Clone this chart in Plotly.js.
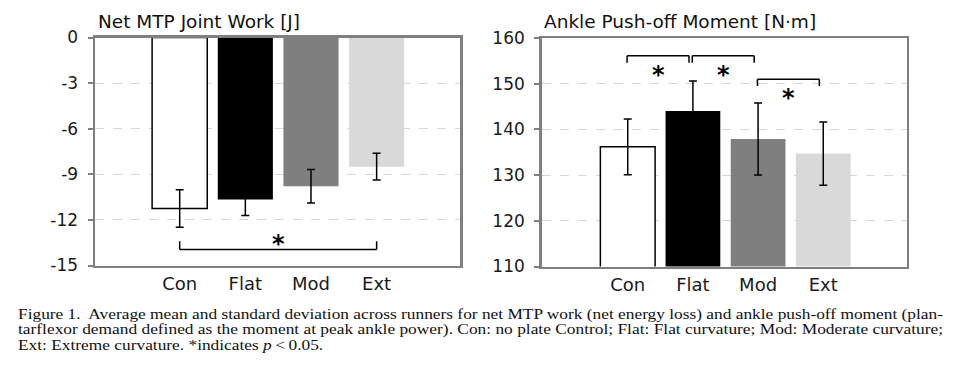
<!DOCTYPE html>
<html>
<head>
<meta charset="utf-8">
<script src="https://cdn.plot.ly/plotly-3.0.1.min.js"></script>
<style>
  html, body { margin:0; padding:0; background:#fff; }
  #wrap { position:relative; width:974px; height:365px; overflow:hidden; }
  #chart { position:absolute; left:0; top:0; width:974px; height:365px; }
  .cap { position:absolute; left:18px; white-space:nowrap; transform-origin:0 0;
    font-family:"Liberation Serif","Times New Roman",serif; font-size:15px; line-height:14px; color:#111; }
</style>
</head>
<body>
<div id="wrap">
  <div id="chart"></div>
  <span class="cap" id="cap1" style="top:307px">Figure 1.&nbsp; Average mean and standard deviation across runners for net MTP work (net energy loss) and ankle push-off moment (plan-</span>
  <span class="cap" id="cap2" style="top:322px">tarflexor demand defined as the moment at peak ankle power). Con: no plate Control; Flat: Flat curvature; Mod: Moderate curvature;</span>
  <span class="cap" id="cap3" style="top:338px">Ext: Extreme curvature. *indicates <i>p</i>&thinsp;&lt;&thinsp;0.05.</span>
</div>
<script>
// ---- data ----
const categories = ['Con', 'Flat', 'Mod', 'Ext'];
const mtpWorkMean = [-11.25, -10.66, -9.78, -8.5];
const mtpWorkSD = [1.23, 1.05, 1.1, 0.88];
const ankleMomentMean = [136.2, 144.0, 137.9, 134.7];
const ankleMomentSD = [6.1, 6.6, 7.9, 6.9];
const leftTickVals = [0, -3, -6, -9, -12, -15];
const leftTickText = ['0', '-3', '-6', '-9', '-12', '-15'];
const rightTickVals = [110, 120, 130, 140, 150, 160];
const rightTickText = ['110', '120', '130', '140', '150', '160'];
// significance comparisons: [from index, to index]
const leftSigPairs = [[0, 3]];
const rightSigPairs = [[0, 1], [1, 2], [2, 3]];
const leftSigLevels = [-13.95];
const rightSigLevels = [156.1, 156.1, 151.0];

// ---- styles ----
const barColors = ['#ffffff', '#000000', '#7f7f7f', '#d9d9d9'];
const barLineColors = ['#000000', '#000000', '#7f7f7f', '#d9d9d9'];
const barLineWidths = [1.5, 0, 0, 0];
const FONT = 'DejaVu Sans, sans-serif';
const W = 974, H = 365;

function px2x(p) { return p / W; }
function px2y(p) { return 1 - p / H; }

const errStyle = { type: 'data', color: '#000', thickness: 1.5, width: 4, visible: true };

const traces = [
  {
    type: 'bar', x: categories, y: mtpWorkMean, xaxis: 'x', yaxis: 'y',
    marker: { color: barColors, line: { color: barLineColors, width: barLineWidths } },
    error_y: Object.assign({ array: mtpWorkSD }, errStyle),
    hoverinfo: 'x+y', showlegend: false
  },
  {
    type: 'bar', x: categories, y: ankleMomentMean, xaxis: 'x2', yaxis: 'y2',
    marker: { color: barColors, line: { color: barLineColors, width: barLineWidths } },
    error_y: Object.assign({ array: ankleMomentSD }, errStyle),
    hoverinfo: 'x+y', showlegend: false
  }
];

const axisCommonX = {
  type: 'category', showgrid: false, zeroline: false,
  showline: true, mirror: true, linecolor: '#7f7f7f', linewidth: 2.5,
  ticks: '', tickfont: { family: FONT, size: 18, color: '#1a1a1a' },
  ticklabelstandoff: 0, fixedrange: true
};
const axisCommonY = {
  showgrid: true, gridcolor: '#d6d6d6', griddash: 'dash', gridwidth: 1,
  zeroline: false, showline: true, mirror: true, linecolor: '#7f7f7f', linewidth: 2.5,
  ticks: 'outside', ticklen: 5, tickwidth: 2, tickcolor: '#7f7f7f',
  tickfont: { family: FONT, size: 17, color: '#1a1a1a' }, ticklabelstandoff: 6, fixedrange: true
};

const layout = {
  width: W, height: H,
  margin: { l: 0, r: 0, t: 0, b: 0 },
  paper_bgcolor: '#ffffff', plot_bgcolor: '#ffffff',
  bargap: 0.16,
  xaxis: Object.assign({}, axisCommonX, {
    domain: [px2x(95), px2x(460)], range: [-1.29, 4.27], anchor: 'y'
  }),
  yaxis: Object.assign({}, axisCommonY, {
    domain: [px2y(265.5), px2y(37.5)], range: [-15, 0], anchor: 'x',
    tickvals: leftTickVals, ticktext: leftTickText
  }),
  xaxis2: Object.assign({}, axisCommonX, {
    domain: [px2x(541.7), px2x(906.7)], range: [-1.32, 4.28], anchor: 'y2'
  }),
  yaxis2: Object.assign({}, axisCommonY, {
    domain: [px2y(266.5), px2y(38)], range: [110, 160], anchor: 'x2',
    tickvals: rightTickVals, ticktext: rightTickText
  }),
  shapes: [],
  annotations: [
    { text: 'Net MTP Joint Work [J]', xref: 'paper', yref: 'paper', x: px2x(96), y: px2y(21.5),
      xanchor: 'left', yanchor: 'middle', showarrow: false, font: { family: FONT, size: 18.5, color: '#111' } },
    { text: 'Ankle Push-off Moment [N·m]', xref: 'paper', yref: 'paper', x: px2x(542), y: px2y(21.5),
      xanchor: 'left', yanchor: 'middle', showarrow: false, font: { family: FONT, size: 18.5, color: '#111' } }
  ]
};

const lineStyle = { color: '#000', width: 1.5 };
const starFont = { family: FONT, size: 24, color: '#000', weight: 'bold' };

// left bracket (opens upward)
leftSigPairs.forEach((p, i) => {
  const yb = leftSigLevels[i], yt = yb + 0.55;
  const x0 = p[0], x1 = p[1];
  layout.shapes.push({ type: 'line', xref: 'x', yref: 'y', x0: x0, x1: x0, y0: yt, y1: yb, line: lineStyle });
  layout.shapes.push({ type: 'line', xref: 'x', yref: 'y', x0: x0, x1: x1, y0: yb, y1: yb, line: lineStyle });
  layout.shapes.push({ type: 'line', xref: 'x', yref: 'y', x0: x1, x1: x1, y0: yb, y1: yt, line: lineStyle });
  layout.annotations.push({ text: '*', xref: 'x', yref: 'y', x: (x0 + x1) / 2, y: yb + 0.75,
    xanchor: 'center', yanchor: 'middle', yshift: -6, showarrow: false, font: starFont });
});

// right brackets (open downward)
rightSigPairs.forEach((p, i) => {
  const yt = rightSigLevels[i], yb = yt - 1.5;
  const x0 = p[0] - 0.01, x1 = p[1] - 0.06;
  layout.shapes.push({ type: 'line', xref: 'x2', yref: 'y2', x0: x0, x1: x0, y0: yb, y1: yt, line: lineStyle });
  layout.shapes.push({ type: 'line', xref: 'x2', yref: 'y2', x0: x0, x1: x1, y0: yt, y1: yt, line: lineStyle });
  layout.shapes.push({ type: 'line', xref: 'x2', yref: 'y2', x0: x1, x1: x1, y0: yt, y1: yb, line: lineStyle });
  layout.annotations.push({ text: '*', xref: 'x2', yref: 'y2', x: (x0 + x1) / 2, y: yt - 2.8,
    xanchor: 'center', yanchor: 'middle', yshift: -6, showarrow: false, font: starFont });
});

Plotly.newPlot('chart', traces, layout, { displayModeBar: false, staticPlot: true });

// fit caption lines to the justified width of the reference
const capWidth = 925;
const c1 = document.getElementById('cap1'), c2 = document.getElementById('cap2'), c3 = document.getElementById('cap3');
const s1 = capWidth / c1.getBoundingClientRect().width;
const s2 = capWidth / c2.getBoundingClientRect().width;
c1.style.transform = 'scaleX(' + s1 + ')';
c2.style.transform = 'scaleX(' + s2 + ')';
c3.style.transform = 'scaleX(' + s1 + ')';
</script>
</body>
</html>
